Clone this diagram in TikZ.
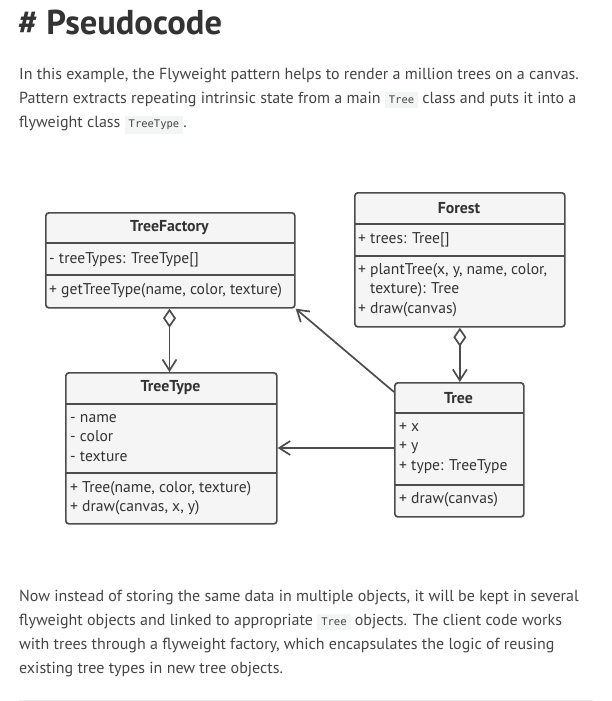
\documentclass[tikz,border=0pt]{standalone}
\usepackage{fontspec}
\setmainfont{PT Sans}
\newfontfamily\codefont{DejaVu Sans Mono}
\usetikzlibrary{arrows.meta}

\definecolor{bodytext}{HTML}{444444}
\definecolor{headtext}{HTML}{333333}
\definecolor{linec}{HTML}{4D4D4D}
\definecolor{boxfill}{HTML}{F5F5F5}
\definecolor{codebg}{HTML}{F3F4F4}
\definecolor{rulec}{HTML}{EEEEEE}

\newcommand{\inlinecode}[1]{{\setlength{\fboxsep}{4pt}\colorbox{codebg}{\codefont\fontsize{10.5}{12}\selectfont #1}}}

\tikzset{
  classbox/.style={draw=linec, fill=boxfill, line width=1.7pt, rounded corners=3pt,
    anchor=north west, inner sep=0pt},
  sepline/.style={draw=linec, line width=1.7pt},
  classname/.style={font=\fontsize{15.8}{18}\selectfont\bfseries, text=headtext, inner sep=0pt},
  member/.style={font=\fontsize{15.6}{19.5}\selectfont, text=headtext, align=left,
    anchor=west, inner sep=0pt},
  para/.style={font=\fontsize{16}{24}\selectfont, text=bodytext, align=left,
    anchor=north west, inner sep=0pt},
  link/.style={draw=linec, line width=1.7pt},
  barb/.style={-{Straight Barb[length=11pt,width=14pt,line width=1.7pt]}},
  aggr/.style={{Diamond[open,length=19pt,width=13pt,line width=1.7pt]}-{Straight Barb[length=11pt,width=14pt,line width=1.7pt]}},
}

\begin{document}
\begin{tikzpicture}[x=1pt,y=-1pt]
\useasboundingbox (0,0) rectangle (612,701);

% heading and intro
\node[anchor=base west, inner sep=0pt, font=\fontsize{34.5}{38}\selectfont\bfseries, text=headtext] (heading) at (18,35) {\# Pseudocode};
\node[para] (intro) at (19,68) {In this example, the Flyweight pattern helps to render a million trees on a canvas.\\
Pattern extracts repeating intrinsic state from a main \inlinecode{Tree} class and puts it into a\\
flyweight class \inlinecode{TreeType}.};

% TreeFactory
\node[classbox, minimum width=249pt, minimum height=95pt] (factory) at (45,212) {};
\draw[sepline] (45,243) -- (294,243);
\draw[sepline] (45,275) -- (294,275);
\node[classname] (factoryname) at (169.5,228) {TreeFactory};
\node[member] (factoryattr) at (49,260) {- treeTypes: TreeType[]};
\node[member] (factoryop) at (49,291) {+ getTreeType(name, color, texture)};

% Forest
\node[classbox, minimum width=210pt, minimum height=134pt] (forest) at (354,192) {};
\draw[sepline] (354,224) -- (564,224);
\draw[sepline] (354,256) -- (564,256);
\node[classname] (forestname) at (459,208) {Forest};
\node[member] (forestattr) at (358,240) {+ trees: Tree[]};
\node[member] (forestop) at (358,290) {+ plantTree(x, y, name, color,\\
\hphantom{+ }texture): Tree\\
+ draw(canvas)};

% TreeType
\node[classbox, minimum width=211pt, minimum height=151pt] (treetype) at (65,372) {};
\draw[sepline] (65,404) -- (276,404);
\draw[sepline] (65,473) -- (276,473);
\node[classname] (treetypename) at (170.5,388) {TreeType};
\node[member] (treetypeattr) at (70,438) {- name\\ - color\\ - texture};
\node[member] (treetypeop) at (70,498) {+ Tree(name, color, texture)\\ + draw(canvas, x, y)};

% Tree
\node[classbox, minimum width=129pt, minimum height=134pt] (tree) at (394,382) {};
\draw[sepline] (394,413) -- (523,413);
\draw[sepline] (394,485) -- (523,485);
\node[classname] (treename) at (458.5,398) {Tree};
\node[member] (treeattr) at (399,448) {+ x\\ + y\\ + type: TreeType};
\node[member] (treeop) at (399,500) {+ draw(canvas)};

% connectors
\draw[link, aggr] (factory.south -| factoryname) -- (treetype.north -| factoryname);
\draw[link, aggr] (forest.south) -- (forest.south |- tree.north);
\draw[link, barb] (tree.west |- treeattr) -- (treeattr -| treetype.east);
\draw[link, barb] ([yshift=-10pt]tree.north west) -- (factory.south east);

% closing text
\node[para] (outro) at (19,590) {Now instead of storing the same data in multiple objects, it will be kept in several\\
flyweight objects and linked to appropriate \inlinecode{Tree} objects. The client code works\\
with trees through a flyweight factory, which encapsulates the logic of reusing\\
existing tree types in new tree objects.};
\draw[rulec, line width=1pt] (19,700) -- (593,700);
\end{tikzpicture}
\end{document}
